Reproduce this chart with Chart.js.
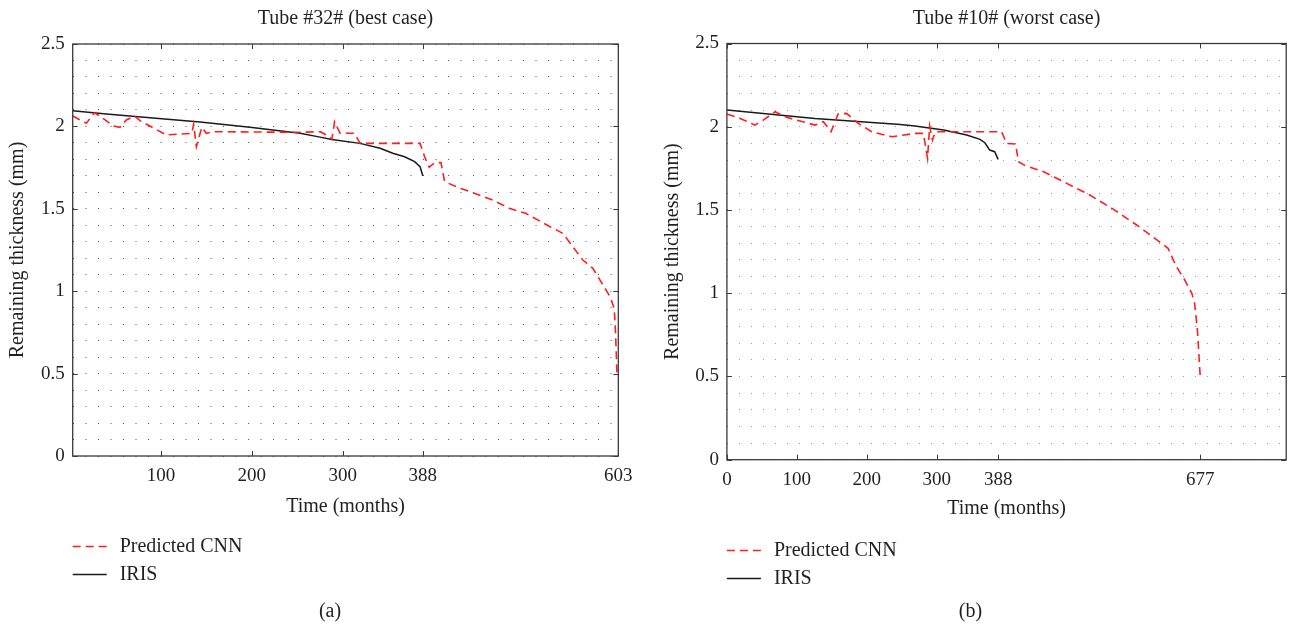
<!DOCTYPE html>
<html>
<head>
<meta charset="utf-8">
<script src="https://cdn.jsdelivr.net/npm/chart.js@4.4.0/dist/chart.umd.min.js"></script>
<style>
  html, body { margin: 0; padding: 0; background: #fff; }
  body { width: 1291px; height: 631px; position: relative; overflow: hidden; }
  .panel { position: absolute; top: 0; height: 631px; }
  #panelA { left: 0; width: 660px; }
  #panelB { left: 650px; width: 641px; }
</style>
</head>
<body>
<div class="panel" id="panelA"><canvas id="chartA"></canvas></div>
<div class="panel" id="panelB"><canvas id="chartB"></canvas></div>
<script>
// Tube #32# (best case)
const bestCnnMonths = [3, 18, 27, 35, 48, 55, 62, 71, 77, 106, 134, 136, 139, 145, 150, 158, 253, 275, 282, 288, 291, 297, 313, 319, 377, 385, 390, 395, 401, 408, 412, 429, 435, 465, 483, 501, 528, 542, 553, 564, 575, 585, 594, 598.5, 600, 601.5];
const bestCnnThickness = [2.063, 2.019, 2.083, 2.055, 2.002, 1.994, 2.039, 2.063, 2.035, 1.948, 1.958, 2.013, 1.877, 1.994, 1.958, 1.968, 1.964, 1.968, 1.948, 1.922, 2.029, 1.958, 1.958, 1.897, 1.897, 1.897, 1.816, 1.752, 1.780, 1.780, 1.665, 1.624, 1.614, 1.553, 1.503, 1.473, 1.391, 1.351, 1.270, 1.189, 1.139, 1.048, 0.967, 0.896, 0.745, 0.50];
const bestIrisMonths = [3, 40, 88, 143, 198, 253, 275, 288, 319, 341, 355, 368, 379, 385, 388];
const bestIrisThickness = [2.095, 2.075, 2.053, 2.027, 1.995, 1.958, 1.935, 1.920, 1.897, 1.867, 1.837, 1.816, 1.786, 1.755, 1.700];
const bestTicks = [100, 200, 300, 388, 603];

// Tube #10# (worst case)
const worstCnnMonths = [0, 19, 40, 52, 69, 86, 126, 138, 149, 159, 171, 188, 207, 236, 269, 281, 287, 290, 294, 298, 310, 393, 400, 413, 417, 426, 453, 486, 519, 553, 586, 615, 631, 643, 655, 665, 669, 673, 677];
const worstCnnThickness = [2.076, 2.050, 2.010, 2.040, 2.090, 2.056, 2.010, 2.030, 1.970, 2.076, 2.080, 2.020, 1.970, 1.940, 1.960, 1.960, 1.810, 2.004, 1.920, 1.970, 1.970, 1.970, 1.900, 1.896, 1.790, 1.768, 1.730, 1.660, 1.590, 1.504, 1.410, 1.320, 1.270, 1.159, 1.079, 0.999, 0.939, 0.779, 0.50];
const worstIrisMonths = [0, 126, 248, 269, 310, 343, 362, 369, 376, 383, 388];
const worstIrisThickness = [2.100, 2.050, 2.014, 2.004, 1.980, 1.950, 1.924, 1.904, 1.860, 1.850, 1.804];
const worstTicks = [0, 100, 200, 300, 388, 677];

const thicknessLabels = [0, 0.5, 1, 1.5, 2, 2.5];

const TEXT = '#231f20';
Chart.defaults.font.family = '"Liberation Serif", "Times New Roman", serif';
Chart.defaults.color = TEXT;

const points = (xs, ys) => xs.map((v, i) => ({x: v, y: ys[i]}));
const isLabelled = v => thicknessLabels.some(t => Math.abs(t - v) < 1e-6);

// box around the plot, inward tick marks, legend under the axis title and the panel letter
const boxFrame = {
  id: 'boxFrame',
  afterDatasetsDraw(chart) {
    const {ctx, chartArea: a, scales: {x, y}} = chart;
    ctx.save();
    ctx.strokeStyle = '#3a3a3a';
    ctx.lineWidth = 1.3;
    ctx.strokeRect(a.left, a.top, a.right - a.left, a.bottom - a.top);
    ctx.lineWidth = 1;
    ctx.beginPath();
    x.ticks.forEach(t => {
      const px = Math.round(x.getPixelForValue(t.value)) + 0.5;
      ctx.moveTo(px, a.bottom); ctx.lineTo(px, a.bottom - 5);
      ctx.moveTo(px, a.top); ctx.lineTo(px, a.top + 5);
    });
    y.ticks.forEach(t => {
      if (!isLabelled(t.value)) return;
      const py = Math.round(y.getPixelForValue(t.value)) + 0.5;
      ctx.moveTo(a.left, py); ctx.lineTo(a.left + 5, py);
      ctx.moveTo(a.right, py); ctx.lineTo(a.right - 5, py);
    });
    ctx.stroke();
    ctx.restore();
  },
  afterDraw(chart, args, opts) {
    const {ctx, chartArea: a} = chart;
    ctx.save();
    ctx.font = '20px "Liberation Serif", "Times New Roman", serif';
    ctx.fillStyle = TEXT;
    ctx.textBaseline = 'middle';
    chart.data.datasets.forEach((ds, i) => {
      const yy = Math.round(a.bottom + opts.legendTop + i * 28) + 0.5;
      ctx.strokeStyle = ds.borderColor;
      ctx.lineWidth = 1.5;
      ctx.setLineDash(ds.borderDash || []);
      ctx.beginPath();
      ctx.moveTo(a.left, yy);
      ctx.lineTo(a.left + 34, yy);
      ctx.stroke();
      ctx.setLineDash([]);
      ctx.textAlign = 'left';
      ctx.fillText(ds.label, a.left + 47, yy);
    });
    ctx.textAlign = 'center';
    ctx.fillText(opts.caption, chart.width / 2, opts.captionY);
    ctx.restore();
  }
};

function makeChart(id, cfg) {
  return new Chart(document.getElementById(id), {
    type: 'line',
    data: {
      datasets: [
        {
          label: 'Predicted CNN',
          data: points(cfg.cnnX, cfg.cnnY),
          borderColor: 'rgb(255, 30, 30)',
          borderWidth: 1.6,
          borderDash: [8, 5],
          pointRadius: 0,
          tension: 0
        },
        {
          label: 'IRIS',
          data: points(cfg.irisX, cfg.irisY),
          borderColor: '#1a1a1a',
          borderWidth: 1.5,
          pointRadius: 0,
          tension: 0
        }
      ]
    },
    options: {
      responsive: true,
      maintainAspectRatio: false,
      animation: false,
      layout: { padding: cfg.padding },
      plugins: {
        legend: { display: false },
        tooltip: { enabled: false },
        title: {
          display: true,
          text: cfg.title,
          fullSize: false,
          color: TEXT,
          font: { size: 20, weight: 'normal' },
          padding: cfg.titlePadding
        },
        boxFrame: { legendTop: 90, caption: cfg.caption, captionY: 612 }
      },
      scales: {
        x: {
          type: 'linear',
          min: cfg.xMin,
          max: cfg.xMax,
          afterBuildTicks: s => { s.ticks = cfg.ticks.map(v => ({value: v})); },
          afterFit: s => { s.height = cfg.xHeight; },
          ticks: { autoSkip: false, maxRotation: 0, padding: 9, font: { size: 19 }, callback: v => String(v) },
          grid: { display: false, drawTicks: false },
          border: { display: false },
          title: { display: true, text: 'Time (months)', font: { size: 20 }, padding: { top: 4, bottom: 4 } }
        },
        y: {
          min: 0,
          max: 2.5,
          afterFit: s => { s.width = cfg.yWidth; },
          ticks: {
            stepSize: 0.1,
            maxTicksLimit: 40,
            autoSkip: false,
            padding: 8,
            font: { size: 19 },
            callback: v => isLabelled(v) ? String(Math.round(v * 10) / 10) : ''
          },
          grid: { color: cfg.dotColor, lineWidth: 1, drawTicks: false },
          border: { display: false, dash: [1, cfg.dotGap] },
          title: { display: true, text: 'Remaining thickness (mm)', font: { size: 20 }, padding: { top: 4, bottom: 4 } }
        }
      }
    },
    plugins: [boxFrame]
  });
}

makeChart('chartA', {
  title: 'Tube #32# (best case)',
  caption: '(a)',
  cnnX: bestCnnMonths, cnnY: bestCnnThickness,
  irisX: bestIrisMonths, irisY: bestIrisThickness,
  ticks: bestTicks,
  xMin: 3, xMax: 603,
  padding: { left: 2, right: 41.7, top: 0, bottom: 108 },
  titlePadding: { top: 7, bottom: 13 },
  xHeight: 67,
  yWidth: 70.7,
  dotColor: '#555',
  dotGap: 11.5
});

makeChart('chartB', {
  title: 'Tube #10# (worst case)',
  caption: '(b)',
  cnnX: worstCnnMonths, cnnY: worstCnnThickness,
  irisX: worstIrisMonths, irisY: worstIrisThickness,
  ticks: worstTicks,
  xMin: 0, xMax: 800,
  padding: { left: 7, right: 4.8, top: 0, bottom: 106.3 },
  titlePadding: { top: 7, bottom: 12.5 },
  xHeight: 65,
  yWidth: 69.9,
  dotColor: '#999',
  dotGap: 11
});
</script>
</body>
</html>
